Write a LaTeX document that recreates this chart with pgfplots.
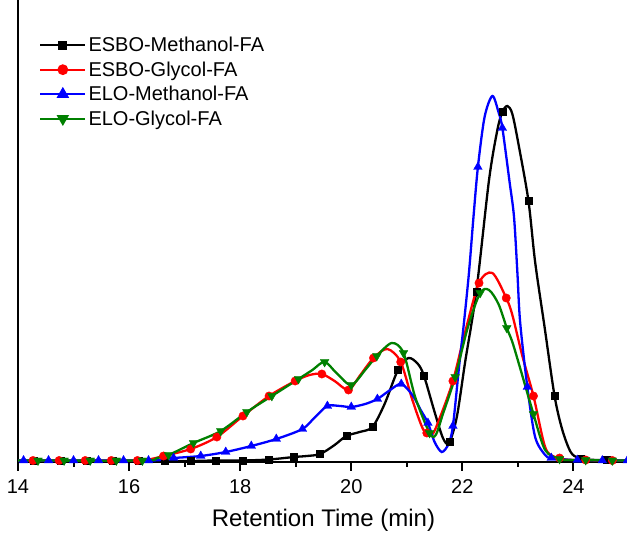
\documentclass[border=0pt]{standalone}
\usepackage{fontspec}
\setmainfont{Liberation Sans}
\usepackage{pgfplots}
\pgfplotsset{compat=1.18}
\usetikzlibrary{calc}
\definecolor{ogreen}{RGB}{0,128,0}

\begin{document}
\begin{tikzpicture}
\begin{axis}[name=ax, scale only axis, width=611pt, height=462pt,
  xmin=14, xmax=25, ymin=0, ymax=462,
  axis x line*=bottom, axis y line*=left,
  axis line style={line width=1.8pt},
  xtick={14,16,...,24}, minor xtick={15,17,...,25}, ytick=\empty,
  xtick align=outside, major tick length=9pt, minor tick length=5pt,
  xtick style={black, line width=2pt},
  /pgf/number format/assume math mode=true,
  xticklabel style={font=\fontsize{20}{22}\selectfont, yshift=-5pt},
  xlabel={Retention Time (min)},
  xlabel style={font=\fontsize{24}{28}\selectfont, yshift=-9pt},
  legend style={at={(axis description cs:0,1)}, anchor=north west,
    xshift=18pt, yshift=-33pt, draw=none, fill=none,
    font=\fontsize{20}{22}\selectfont, row sep=4.5pt},
  legend cell align=left,
  legend image code/.code={\draw[mark repeat=2, mark phase=2]
    plot coordinates {(0pt,0pt) (22.5pt,0pt) (45pt,0pt)};}]

% legend
\addlegendimage{black, line width=2.3pt, mark=square*, mark size=3.5pt}
\addlegendentry{ESBO-Methanol-FA}
\addlegendimage{red, line width=2.3pt, mark=*, mark size=4.2pt}
\addlegendentry{ESBO-Glycol-FA}
\addlegendimage{blue, line width=2.3pt, mark=triangle*, mark size=5pt}
\addlegendentry{ELO-Methanol-FA}
\addlegendimage{ogreen, line width=2.3pt, mark=triangle*, mark size=5pt, mark options={rotate=180}}
\addlegendentry{ELO-Glycol-FA}

% ESBO-Methanol-FA
\addplot[black, line width=2.3pt, smooth, forget plot] coordinates {
(14,1) (15,1) (16,1) (16.64,1) (17.11,1) (17.56,1.5) (18.05,1.5) (18.52,2.5)
(18.97,5) (19.2,6) (19.44,8) (19.7,17) (19.91,26) (20.15,30) (20.38,35)
(20.6,58) (20.84,92) (21.03,104) (21.2,98) (21.31,86) (21.5,50) (21.65,24)
(21.76,19) (21.9,45) (22.05,100) (22.25,170) (22.48,282) (22.63,332)
(22.72,350) (22.81,356) (22.9,348) (23.02,315) (23.19,261) (23.31,200)
(23.48,135) (23.66,66) (23.8,32) (23.95,10) (24.1,4) (24.4,2) (25,1.5)};
\addplot[black, only marks, mark=square*, mark size=3.5pt, forget plot] coordinates {
(14.29,1) (14.76,1) (15.23,1) (15.7,1) (16.17,1) (16.64,1) (17.11,1)
(17.56,1.5) (18.05,1.5) (18.52,2.5) (18.97,5) (19.44,8) (19.91,26) (20.38,35)
(20.84,92) (21.31,86) (21.78,20) (22.25,170) (22.72,350) (23.19,261)
(23.66,66) (24.13,3) (24.6,2)};

% ESBO-Glycol-FA
\addplot[red, line width=2.3pt, smooth, forget plot] coordinates {
(14,1.5) (16.15,1.5) (16.4,3) (16.62,6) (17.11,13) (17.58,25) (18.05,46)
(18.52,66) (18.99,81) (19.25,87) (19.47,88) (19.7,81) (19.95,72) (20.15,86)
(20.4,104) (20.65,113) (20.89,100) (21.1,62) (21.3,32) (21.45,27) (21.6,45)
(21.83,81) (22.05,130) (22.3,179) (22.54,189) (22.79,164) (22.9,147)
(23.08,106) (23.28,66) (23.49,15) (23.67,5) (24,2) (25,1.5)};
\addplot[red, only marks, mark=*, mark size=4.2pt, forget plot] coordinates {
(14.27,1.5) (14.74,1.5) (15.21,1.5) (15.68,1.5) (16.15,1.5) (16.62,6)
(17.11,13) (17.58,25) (18.05,46) (18.52,66) (18.99,81) (19.47,88) (19.95,72)
(20.4,104) (20.89,100) (21.36,29) (21.83,81) (22.3,179) (22.79,164)
(23.28,66) (23.75,4) (24.22,2) (24.7,1.5)};

% ELO-Methanol-FA
\addplot[blue, line width=2.3pt, smooth, forget plot] coordinates {
(14,1.5) (16.35,1.5) (16.6,3) (16.8,4) (17.29,6) (17.74,10) (18.2,16)
(18.65,23) (19.12,33) (19.35,45) (19.57,56) (19.8,56) (20.0,55) (20.25,58)
(20.47,63) (20.7,72) (20.9,78) (21.1,67) (21.25,52) (21.38,39) (21.5,20)
(21.63,10) (21.75,18) (21.83,36) (21.94,95) (22.03,140) (22.12,190)
(22.2,245) (22.28,295) (22.4,345) (22.54,366) (22.65,350) (22.72,334)
(22.85,280) (22.93,245) (22.99,190) (23.04,140) (23.17,75) (23.31,25)
(23.49,7) (23.6,4) (24,2) (25,1.5)};
\addplot[blue, only marks, mark=triangle*, mark size=5pt, forget plot] coordinates {
(14.1,1.5) (14.55,1.5) (15.0,1.5) (15.45,1.5) (15.9,1.5) (16.35,1.5)
(16.8,4) (17.29,6) (17.74,10) (18.2,16) (18.65,23) (19.12,33) (19.57,56)
(20.0,55) (20.47,63) (20.9,78) (21.38,39) (21.83,36) (22.28,295) (22.72,334)
(23.17,75) (23.6,4) (24.07,2) (24.52,1.5) (24.97,1.5)};

% ELO-Glycol-FA
\addplot[ogreen, line width=2.3pt, smooth, forget plot] coordinates {
(14,1.5) (16.24,1.5) (16.5,4) (16.71,7) (17.16,19) (17.65,31) (18.12,50)
(18.57,66) (19.05,83) (19.3,92) (19.52,100) (19.75,88) (20.0,77) (20.25,92)
(20.46,106) (20.73,119) (20.94,109) (21.15,65) (21.41,29) (21.52,27)
(21.65,48) (21.87,85) (22.1,135) (22.32,169) (22.48,172) (22.65,158)
(22.8,134) (22.9,120) (23.05,92) (23.28,48) (23.49,12) (23.75,3) (24,2)
(25,1.5)};
\addplot[ogreen, only marks, mark=triangle*, mark size=5pt,
  mark options={rotate=180}, forget plot] coordinates {
(14.36,1.5) (14.83,1.5) (15.3,1.5) (15.77,1.5) (16.24,1.5) (16.71,7)
(17.16,19) (17.65,31) (18.12,50) (18.57,66) (19.05,83) (19.52,100) (20.0,77)
(20.46,106) (20.94,109) (21.41,29) (21.87,85) (22.32,169) (22.8,134)
(23.28,48) (23.75,3) (24.22,2) (24.7,1.5)};
\end{axis}
\pgfresetboundingbox
\path[use as bounding box] ($(ax.south west)+(-18pt,-73pt)$) rectangle ($(ax.north west)+(609pt,0pt)$);
\end{tikzpicture}
\end{document}
